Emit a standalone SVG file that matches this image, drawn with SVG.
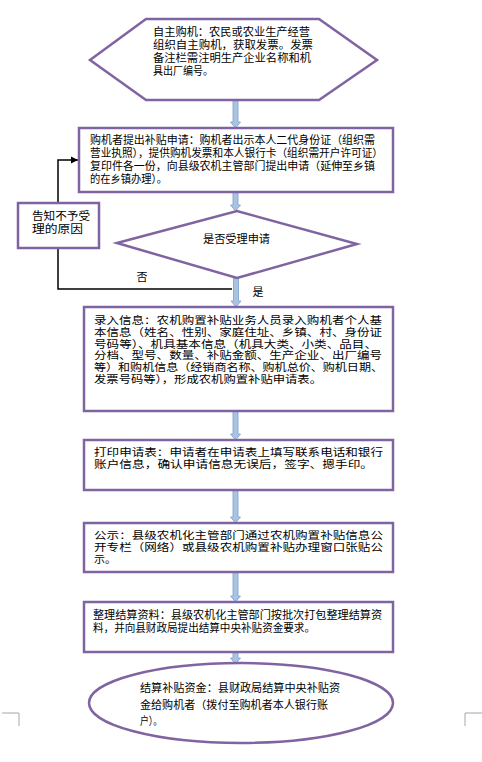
<svg xmlns="http://www.w3.org/2000/svg" width="482" height="762" viewBox="0 0 482 762">
<defs>
<style>
.n{fill:#fff;stroke:#8064A2;stroke-width:2.5}
.t{font-family:"Noto Sans CJK SC","Noto Sans CJK TC",sans-serif;fill:#000}
.s11{font-size:11px}
.s12{font-size:10.5px}
.ba{fill:#A9C3E3;stroke:#7F9FCC;stroke-width:0.8}
.ln{fill:none;stroke:#000;stroke-width:1.5}
.cm{fill:none;stroke:#A6A6A6;stroke-width:1}
</style>
<marker id="ah" markerWidth="8" markerHeight="8" refX="7" refY="4" orient="auto" markerUnits="userSpaceOnUse">
<path d="M0,0.5 L7,4 L0,7.5 Z" fill="#000"/>
</marker>
</defs>
<rect width="482" height="762" fill="#fff"/>

<g id="connectors">
<path class="ln" d="M232,289 H58 V160 H78" marker-end="url(#ah)"/>
<path class="ba" d="M233,100 H238 V122 H240.5 L235.5,128 L230.5,122 H233 Z"/>
<path class="ba" d="M233,192 H238 V205 H240.5 L235.5,211 L230.5,205 H233 Z"/>
<path class="ba" d="M233.5,278 H238.5 V301 H241 L236,307 L231,301 H233.5 Z"/>
<path class="ba" d="M233,411 H238 V434 H240.5 L235.5,440 L230.5,434 H233 Z"/>
<path class="ba" d="M233,490 H238 V517 H240.5 L235.5,523 L230.5,517 H233 Z"/>
<path class="ba" d="M233,572 H238 V596 H240.5 L235.5,602 L230.5,596 H233 Z"/>
<path class="ba" d="M233,652 H238 V658 H240.5 L235.5,664 L230.5,658 H233 Z"/>
<text class="t s11" x="142" y="281" text-anchor="middle">否</text>
<text class="t s11" x="258" y="296" text-anchor="middle">是</text>
</g>

<g id="node-start">
<polygon class="n" points="90,60 146,19 319,19 377,60 319,100 146,100"/>
<text class="t s11" x="153" y="36" textLength="157" lengthAdjust="spacingAndGlyphs">自主购机：农民或农业生产经营</text>
<text class="t s11" x="153" y="48.5" textLength="160" lengthAdjust="spacingAndGlyphs">组织自主购机，获取发票。发票</text>
<text class="t s11" x="153" y="61.5" textLength="158" lengthAdjust="spacingAndGlyphs">备注栏需注明生产企业名称和机</text>
<text class="t s11" x="153" y="74.5" textLength="60" lengthAdjust="spacingAndGlyphs">具出厂编号。</text>
</g>

<g id="node-apply">
<rect class="n" x="79" y="128" width="314" height="64"/>
<text class="t s11" x="90" y="144" textLength="285" lengthAdjust="spacingAndGlyphs">购机者提出补贴申请：购机者出示本人二代身份证（组织需</text>
<text class="t s11" x="90" y="156.5" textLength="293" lengthAdjust="spacingAndGlyphs">营业执照），提供购机发票和本人银行卡（组织需开户许可证）</text>
<text class="t s11" x="90" y="169.5" textLength="285" lengthAdjust="spacingAndGlyphs">复印件各一份，向县级农机主管部门提出申请（延伸至乡镇</text>
<text class="t s11" x="90" y="182.5" textLength="77" lengthAdjust="spacingAndGlyphs">的在乡镇办理）。</text>
</g>

<g id="node-reject">
<rect class="n" x="18" y="203" width="81" height="45"/>
<text class="t s11" x="32" y="220" textLength="58" lengthAdjust="spacingAndGlyphs">告知不予受</text>
<text class="t s11" x="32" y="233" textLength="51" lengthAdjust="spacingAndGlyphs">理的原因</text>
</g>

<g id="node-decision">
<polygon class="n" points="117,243 237,211 357,244 237,278"/>
<text class="t s11" x="203" y="243" textLength="67" lengthAdjust="spacingAndGlyphs">是否受理申请</text>
</g>

<g id="node-input">
<rect class="n" x="84" y="307" width="309" height="104"/>
<text class="t s12" x="94" y="324" textLength="288" lengthAdjust="spacingAndGlyphs">录入信息：农机购置补贴业务人员录入购机者个人基</text>
<text class="t s12" x="94" y="335.8" textLength="288" lengthAdjust="spacingAndGlyphs">本信息（姓名、性别、家庭住址、乡镇、村、身份证</text>
<text class="t s12" x="94" y="347.6" textLength="283" lengthAdjust="spacingAndGlyphs">号码等）、机具基本信息（机具大类、小类、品目、</text>
<text class="t s12" x="94" y="359.4" textLength="288" lengthAdjust="spacingAndGlyphs">分档、型号、数量、补贴金额、生产企业、出厂编号</text>
<text class="t s12" x="94" y="371.2" textLength="289" lengthAdjust="spacingAndGlyphs">等）和购机信息（经销商名称、购机总价、购机日期、</text>
<text class="t s12" x="94" y="383" textLength="228" lengthAdjust="spacingAndGlyphs">发票号码等），形成农机购置补贴申请表。</text>
</g>

<g id="node-print">
<rect class="n" x="84" y="440" width="309" height="50"/>
<text class="t s12" x="94" y="456" textLength="289" lengthAdjust="spacingAndGlyphs">打印申请表：申请者在申请表上填写联系电话和银行</text>
<text class="t s12" x="94" y="468" textLength="279" lengthAdjust="spacingAndGlyphs">账户信息，确认申请信息无误后，签字、摁手印。</text>
</g>

<g id="node-publish">
<rect class="n" x="84" y="523" width="309" height="49"/>
<text class="t s12" x="94" y="539" textLength="289" lengthAdjust="spacingAndGlyphs">公示：县级农机化主管部门通过农机购置补贴信息公</text>
<text class="t s12" x="94" y="551" textLength="289" lengthAdjust="spacingAndGlyphs">开专栏（网络）或县级农机购置补贴办理窗口张贴公</text>
<text class="t s12" x="94" y="563" textLength="22" lengthAdjust="spacingAndGlyphs">示。</text>
</g>

<g id="node-settle">
<rect class="n" x="84" y="602" width="309" height="50"/>
<text class="t s11" x="93" y="619" textLength="289" lengthAdjust="spacingAndGlyphs">整理结算资料：县级农机化主管部门按批次打包整理结算资</text>
<text class="t s11" x="93" y="631.5" textLength="222" lengthAdjust="spacingAndGlyphs">料，并向县财政局提出结算中央补贴资金要求。</text>
</g>

<g id="node-end">
<ellipse class="n" cx="241" cy="703" rx="152" ry="40"/>
<text class="t s11" x="140" y="692" textLength="200" lengthAdjust="spacingAndGlyphs">结算补贴资金：县财政局结算中央补贴资</text>
<text class="t s11" x="140" y="709" textLength="188" lengthAdjust="spacingAndGlyphs">金给购机者（拨付至购机者本人银行账</text>
<text class="t s11" x="140" y="725" textLength="22" lengthAdjust="spacingAndGlyphs">户）。</text>
</g>

<path class="cm" d="M2,713 H19 V726"/>
<path class="cm" d="M482,713 H465 V726"/>
</svg>
